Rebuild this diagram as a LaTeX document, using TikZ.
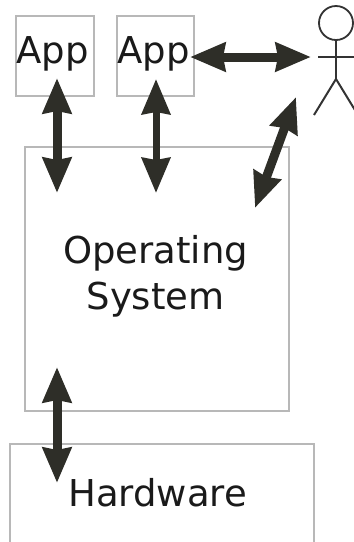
\documentclass[tikz,border=0pt]{standalone}
\usepackage{fontspec}
\setmainfont{DejaVu Sans}
\usetikzlibrary{arrows.meta}
\definecolor{boxline}{HTML}{B8B8B8}
\definecolor{arrowdark}{HTML}{2E2E28}
\definecolor{inktext}{HTML}{1A1A1A}
\definecolor{stick}{HTML}{333333}
\tikzset{
  boxnode/.style={draw=boxline,line width=2pt,fill=none,inner sep=0pt,outer sep=0pt,anchor=north west},
  labeltext/.style={text=inktext,font=\fontsize{37}{46}\selectfont,align=center,inner sep=0pt},
  twoway/.style={draw=arrowdark,line width=#1,{Stealth[length=35pt,width=28pt,inset=2pt]}-{Stealth[length=35pt,width=28pt,inset=2pt]}},
  twoway/.default=9pt,
  stickline/.style={draw=stick,line width=2pt}
}
\begin{document}
\begin{tikzpicture}[x=1pt,y=-1pt]
\useasboundingbox (0,0) rectangle (354,542);
\clip (0,0) rectangle (354,542);
\fill[white] (0,0) rectangle (354,542);
% boxes
\node[boxnode,minimum width=78pt,minimum height=80pt] (appa) at (16,15.5) {};
\node[boxnode,minimum width=77pt,minimum height=80.5pt] (appb) at (117,15.5) {};
\node[boxnode,minimum width=264pt,minimum height=264pt] (os) at (25,147) {};
\node[boxnode,minimum width=304pt,minimum height=160pt] (hw) at (10,444) {};
% labels
\node[labeltext] (appalabel) at (52.5,54) {App};
\node[labeltext] (appblabel) at (153.5,54) {App};
\node[labeltext] (oslabel) at (155.5,276) {Operating\\System};
\node[labeltext] (hwlabel) at (157.5,493) {Hardware};
% actor
\node[draw=stick,line width=1.8pt,circle,minimum size=34pt,inner sep=0pt] (head) at (336,23) {};
\coordinate (hip) at (336,79);
\coordinate (armL) at (318,57);
\coordinate (armR) at (356,57);
\coordinate (legL) at (314,115);
\coordinate (legR) at (358,115);
\draw[stickline] (head.south) -- (hip);
\draw[stick,line width=2.6pt] (armL) -- (armR);
\draw[stickline] (legL) -- (hip) -- (legR);
% connector ends
\coordinate (a1t) at (57,78);
\coordinate (a1b) at (57,193);
\coordinate (a2t) at (156,79);
\coordinate (a2b) at (156,193);
\coordinate (a3l) at (190,57);
\coordinate (a3r) at (311,57);
\coordinate (a4t) at (296,97);
\coordinate (a4b) at (255,208);
\coordinate (a5t) at (57,367);
\coordinate (a5b) at (57,483);
\draw[twoway=9pt] (a1t) -- (a1b);
\draw[twoway=7pt] (a2t) -- (a2b);
\draw[twoway=9pt] (a3l) -- (a3r);
\draw[twoway=9pt] (a4t) -- (a4b);
\draw[twoway=9pt] (a5t) -- (a5b);
\end{tikzpicture}
\end{document}
